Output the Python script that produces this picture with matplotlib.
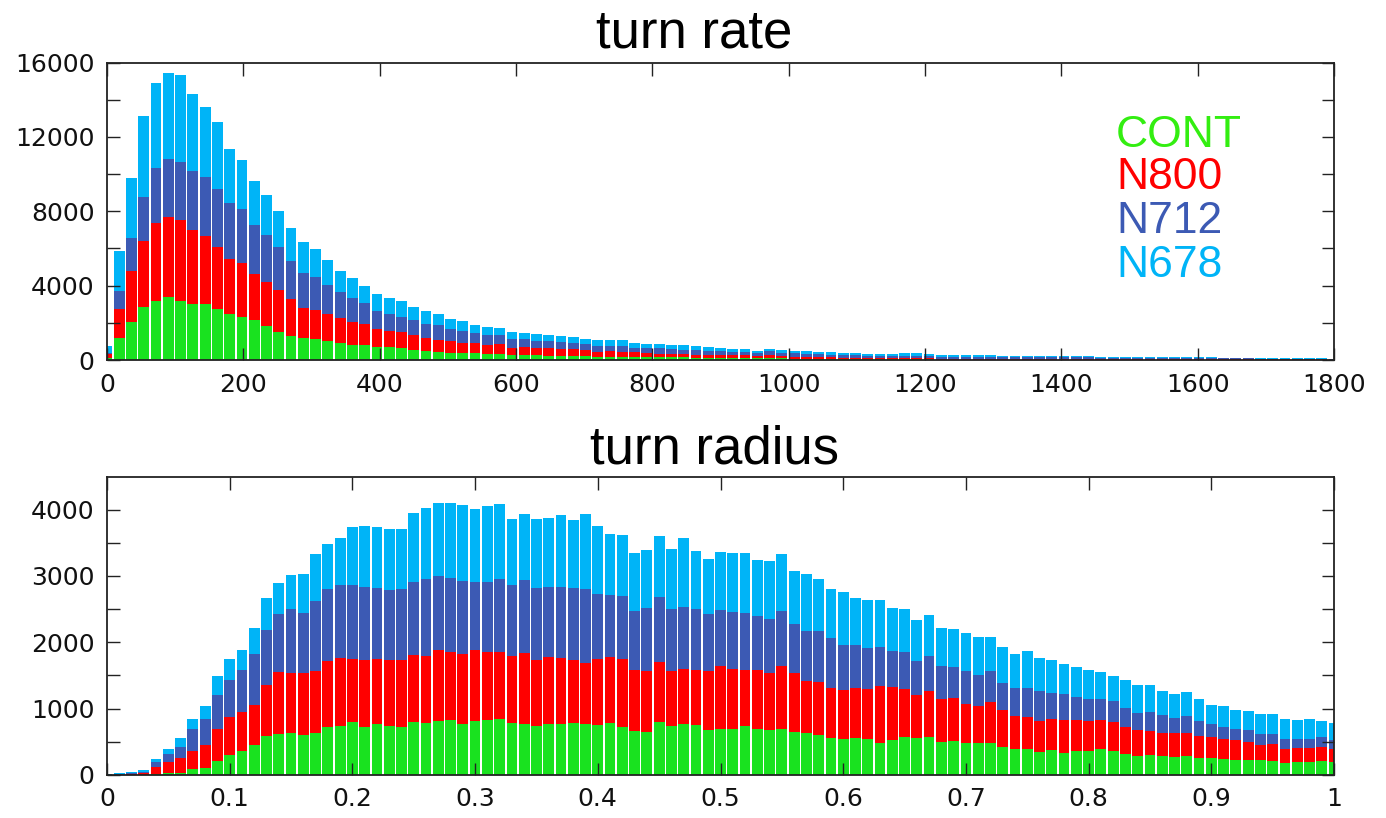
import numpy as np
import matplotlib
matplotlib.use("Agg")
import matplotlib.pyplot as plt
from matplotlib.ticker import MultipleLocator

# ---------------- data: turn rate (bin width 18) ----------------
rate_bin = 18
rate_cont = [90, 1162, 2019, 2841, 3163, 3395, 3163, 3038, 3038, 2734,
             2466, 2323, 2144, 1805, 1519, 1305, 1179, 1108, 1030, 894,
             822, 804, 715, 715, 643, 536, 465, 447, 393, 357,
             357, 304, 322, 268, 250, 250, 214, 214, 214, 214,
             161, 170, 170, 161, 160, 145, 145, 140, 125, 125,
             125, 110, 110, 90, 125, 90, 70, 60, 50, 50,
             45, 45, 40, 40, 35, 35, 35, 30, 25, 25,
             25, 25, 20, 20, 20, 20, 18, 16, 16, 16,
             16, 14, 14, 13, 13, 13, 13, 11, 11, 11,
             11, 10, 10, 10, 9, 9, 9, 9, 7, 7, 6]
rate_n800 = [215, 1572, 2752, 3574, 4199, 4271, 4360, 3931, 3645, 3342,
             2984, 2913, 2466, 2377, 2234, 1965, 1644, 1590, 1445, 1358,
             1233, 1108, 929, 840, 840, 804, 697, 625, 608, 554,
             537, 500, 536, 393, 429, 393, 411, 376, 358, 340,
             286, 295, 280, 250, 200, 195, 175, 170, 165, 145,
             145, 140, 140, 110, 125, 110, 110, 120, 90, 90,
             85, 85, 70, 70, 65, 75, 75, 70, 55, 55,
             55, 55, 55, 50, 50, 50, 47, 43, 43, 43,
             43, 40, 40, 35, 35, 35, 35, 32, 32, 32,
             32, 28, 28, 28, 24, 24, 24, 24, 20, 20, 16]
rate_n712 = [90, 965, 1769, 2377, 2967, 3145, 3145, 3217, 3181, 3127,
             2967, 2895, 2663, 2519, 2323, 2055, 1841, 1787, 1565, 1393,
             1269, 1162, 1001, 911, 840, 804, 786, 786, 661, 662,
             553, 536, 482, 465, 429, 376, 376, 375, 357, 304,
             304, 295, 300, 250, 280, 280, 250, 240, 230, 230,
             195, 180, 160, 160, 215, 160, 180, 160, 160, 150,
             140, 140, 120, 120, 120, 130, 130, 120, 100, 100,
             100, 100, 95, 90, 90, 90, 85, 78, 78, 78,
             78, 71, 71, 65, 65, 65, 65, 57, 57, 57,
             57, 50, 50, 50, 42, 42, 42, 42, 35, 35, 28]
rate_n678 = [375, 2144, 3235, 4307, 4592, 4629, 4664, 4110, 3735, 3610,
             2930, 2645, 2341, 2180, 1948, 1769, 1680, 1501, 1321, 1162,
             1108, 929, 893, 876, 840, 733, 697, 590, 554, 518,
             447, 447, 376, 393, 322, 357, 339, 304, 304, 286,
             303, 305, 304, 250, 236, 256, 252, 272, 213, 215,
             178, 160, 180, 140, 143, 158, 140, 143, 129, 139,
             123, 123, 110, 110, 102, 117, 117, 120, 88, 88,
             88, 88, 80, 72, 72, 72, 64, 59, 59, 59,
             59, 54, 54, 48, 48, 48, 48, 43, 43, 43,
             43, 37, 37, 37, 32, 32, 32, 32, 27, 27, 21]

# ---------------- data: turn radius (bin width 0.01) ----------------
rad_bin = 0.01
rad_cont = [0, 2, 5, 5, 15, 25, 35, 90, 105, 211,
            301, 366, 447, 592, 617, 628, 602, 628, 718, 738,
            798, 728, 768, 738, 728, 793, 783, 813, 828, 763,
            813, 828, 838, 778, 763, 738, 763, 763, 778, 768,
            758, 778, 728, 658, 653, 798, 743, 773, 748, 680,
            693, 693, 743, 693, 678, 693, 653, 628, 597, 552,
            537, 562, 542, 487, 527, 567, 557, 572, 502, 507,
            482, 482, 482, 417, 392, 392, 346, 377, 336, 361,
            361, 392, 356, 321, 286, 306, 286, 271, 286, 256,
            261, 241, 231, 231, 231, 216, 176, 201, 201, 211, 191]
rad_n800 = [0, 3, 10, 20, 110, 176, 216, 276, 342, 477,
            578, 583, 602, 763, 929, 903, 929, 943, 999, 1029,
            949, 1004, 979, 994, 1004, 1014, 1014, 1064, 1024, 1064,
            1075, 1024, 1019, 1009, 1074, 999, 1009, 999, 959, 924,
            994, 994, 1014, 918, 908, 909, 828, 818, 838, 891,
            949, 903, 843, 883, 858, 954, 883, 788, 809, 763,
            748, 753, 758, 853, 793, 728, 648, 688, 638, 648,
            592, 562, 617, 567, 502, 487, 467, 461, 487, 462,
            452, 441, 442, 397, 397, 357, 352, 357, 342, 326,
            306, 301, 291, 271, 221, 256, 216, 206, 206, 206, 196]
rad_n712 = [5, 10, 15, 25, 71, 115, 176, 332, 391, 517,
            552, 627, 778, 829, 884, 974, 914, 1054, 1084, 1089,
            1119, 1104, 1064, 1054, 1064, 1105, 1155, 1115, 1115, 1095,
            1019, 1060, 1095, 1074, 1095, 1079, 1064, 1069, 1079, 1109,
            969, 934, 954, 894, 959, 969, 924, 944, 909, 859,
            848, 859, 854, 814, 818, 823, 733, 753, 768, 748,
            678, 648, 618, 588, 548, 557, 512, 527, 502, 471,
            487, 462, 462, 407, 411, 431, 447, 392, 392, 352,
            327, 307, 316, 291, 246, 291, 271, 235, 261, 226,
            196, 176, 171, 176, 170, 150, 150, 140, 140, 155, 140]
rad_n678 = [10, 10, 10, 25, 40, 76, 125, 140, 196, 286,
            311, 312, 382, 482, 467, 502, 587, 698, 678, 718,
            874, 914, 919, 914, 909, 1029, 1064, 1099, 1129, 1149,
            1094, 1144, 1129, 989, 994, 1034, 1039, 1085, 1019, 1125,
            1034, 923, 918, 873, 869, 923, 909, 1029, 884, 825,
            873, 883, 908, 848, 864, 853, 803, 858, 778, 743,
            788, 703, 712, 707, 642, 643, 617, 628, 567, 578,
            573, 577, 522, 542, 512, 562, 497, 497, 457, 452,
            446, 416, 377, 417, 421, 396, 361, 352, 366, 342,
            296, 321, 286, 286, 302, 302, 306, 276, 291, 241, 251]

series_names = ["CONT", "N800", "N712", "N678"]
bar_colors = ["#19e21f", "#ff0000", "#3c5ab4", "#00b4f7"]
legend_colors = ["#33ee11", "#ff0000", "#3c5ab4", "#00b4f7"]

# ---------------- figure ----------------
plt.rcParams['font.family'] = ['DejaVu Sans']
fig = plt.figure(figsize=(13.86, 8.18), dpi=100)
W, H = 1386, 818

def px_axes(x0, x1, ytop, ybot):
    return fig.add_axes([x0 / W, 1 - ybot / H, (x1 - x0) / W, (ybot - ytop) / H])

ax1 = px_axes(107, 1334, 62.5, 360)
ax2 = px_axes(107, 1334, 477, 775)

def stacked(ax, binw, series):
    x = np.arange(len(series[0])) * binw
    bottom = np.zeros(len(x))
    for vals, col in zip(series, bar_colors):
        v = np.asarray(vals, dtype=float)
        ax.bar(x, v, width=binw * 0.88, bottom=bottom, color=col,
               edgecolor='none', linewidth=0, align='center')
        bottom = bottom + v

stacked(ax1, rate_bin, [rate_cont, rate_n800, rate_n712, rate_n678])
stacked(ax2, rad_bin, [rad_cont, rad_n800, rad_n712, rad_n678])

ax1.set_xlim(0, 1800)
ax1.set_ylim(0, 16000)
ax1.xaxis.set_major_locator(MultipleLocator(200))
ax1.yaxis.set_major_locator(MultipleLocator(4000))
ax1.yaxis.set_minor_locator(MultipleLocator(2000))

ax2.set_xlim(0, 1)
ax2.set_ylim(0, 4490)
ax2.xaxis.set_major_locator(MultipleLocator(0.1))
ax2.yaxis.set_major_locator(MultipleLocator(1000))
ax2.yaxis.set_minor_locator(MultipleLocator(500))
ax2.xaxis.set_major_formatter(matplotlib.ticker.FuncFormatter(
    lambda v, p: "0" if abs(v) < 1e-9 else ("1" if abs(v - 1) < 1e-9 else f"{v:.1f}")))

for ax in (ax1, ax2):
    ax.tick_params(which='both', direction='in', top=True, right=True,
                   length=9, width=1.0, color='#222222')
    ax.tick_params(which='major', labelsize=18, pad=9, labelcolor='#111111')
    for s in ax.spines.values():
        s.set_linewidth(1.3)
        s.set_color('#222222')

fig.text(694 / W, 1 - 48 / H, "turn rate", ha='center', va='baseline',
         fontsize=38, family=['Liberation Sans', 'DejaVu Sans'], color='black')
fig.text(714 / W, 1 - 463 / H, "turn radius", ha='center', va='baseline',
         fontsize=38, family=['Liberation Sans', 'DejaVu Sans'], color='black')

legend_y = [146.7, 189, 233, 276.7]
for name, col, yb in zip(series_names, legend_colors, legend_y):
    fig.text(1116 / W, 1 - yb / H, name, ha='left', va='baseline',
             fontsize=32, family=['Liberation Sans', 'DejaVu Sans'], color=col)

fig.savefig("out.png", dpi=100)
